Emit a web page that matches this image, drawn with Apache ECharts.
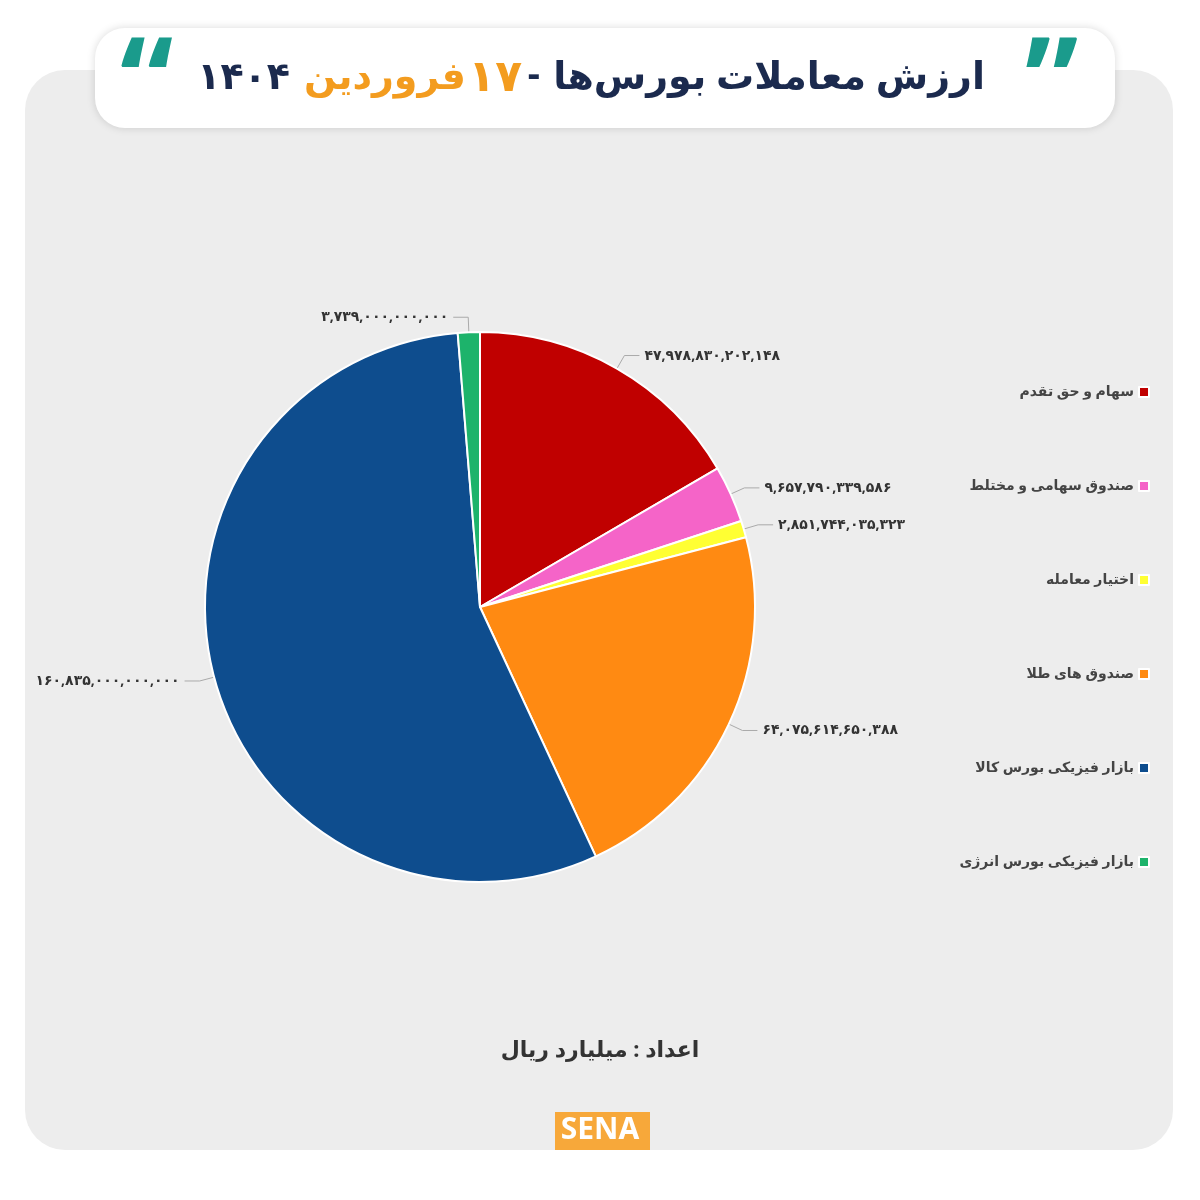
<!DOCTYPE html>
<html><head><meta charset="utf-8">
<script src="https://cdn.jsdelivr.net/npm/echarts@6/dist/echarts.min.js"></script>
<style>html,body{margin:0;padding:0;background:#fff}#c{width:1200px;height:1200px}</style>
</head><body><div id="c"></div>
<script>
const categories = ['سهام و حق تقدم','صندوق سهامی و مختلط','اختیار معامله','صندوق های طلا','بازار فیزیکی بورس کالا','بازار فیزیکی بورس انرژی'];
const values = [47978830202148, 9657790339586, 2851744035323, 64075614650388, 160835000000000, 3739000000000];
const colors = ['#c00000','#f564c8','#ffff33','#ff8a12','#0e4d8e','#1db36b'];
const titleMain = 'ارزش معاملات بورس‌ها';
const titleDay = '۱۷';
const titleMonth = 'فروردین';
const titleYear = '۱۴۰۴';
const unitText = 'اعداد : میلیارد ریال';

function fa(n){
  const s = n.toLocaleString('en-US');
  return s.replace(/\d/g, d => '۰۱۲۳۴۵۶۷۸۹'[d]);
}
const chart = echarts.init(document.getElementById('c'));
const F = 'Noto Sans, DejaVu Sans, sans-serif';
const tf = 'bold 38px '+F;
chart.setOption({
  backgroundColor: '#ffffff',
  color: colors,
  graphic: [
    {type:'rect', shape:{x:25,y:70,width:1148,height:1080,r:40}, style:{fill:'#ededed'}, z:-10},
    {type:'rect', shape:{x:95,y:28,width:1020,height:100,r:30}, style:{fill:'#ffffff', shadowBlur:8, shadowColor:'rgba(0,0,0,0.15)'}, z:-5},
    {type:'text', x:1025, y:30, style:{text:'\u201D', fill:'#1a9b8c', font:'bold 120px '+F}},
    {type:'text', x:120, y:30, style:{text:'\u201C', fill:'#1a9b8c', font:'bold 120px '+F}},
    {type:'text', x:985, y:78, style:{text:titleMain, fill:'#1b2a4e', font:tf, align:'right', verticalAlign:'middle'}},
    {type:'text', x:540, y:76, style:{text:'-', fill:'#1b2a4e', font:tf, align:'right', verticalAlign:'middle'}},
    {type:'text', x:522, y:78, style:{text:titleDay, fill:'#f39c1f', font:'bold 44px '+F, align:'right', verticalAlign:'middle'}},
    {type:'text', x:466, y:78, style:{text:titleMonth, fill:'#f39c1f', font:tf, align:'right', verticalAlign:'middle'}},
    {type:'text', x:290, y:78, style:{text:titleYear, fill:'#1b2a4e', font:tf, align:'right', verticalAlign:'middle'}},
    {type:'text', left:'center', top:1040, style:{text:unitText, fill:'#333', font:'bold 22px '+F}},
    {type:'rect', shape:{x:555,y:1112,width:95,height:38}, style:{fill:'#f7a83a'}},
    {type:'text', left:'center', top:1115, style:{text:'SENA', fill:'#ffffff', font:'bold 30px '+F}}
  ],
  legend: {
    orient:'vertical', right:45, top:380, itemGap:80, align:'right',
    icon:'rect', itemWidth:10, itemHeight:10,
    textStyle:{fontFamily:F, fontSize:14, fontWeight:'bold', color:'#444'},
    data: categories
  },
  series: [{
    type:'pie', center:[480,607], radius:[0,275], startAngle:90, clockwise:true,
    itemStyle:{borderColor:'#ffffff', borderWidth:2},
    label:{formatter:p=>fa(p.value), fontFamily:F, fontSize:14, fontWeight:'bold', color:'#333', overflow:'none'},
    labelLine:{length:15, length2:15, lineStyle:{color:'#aaa'}},
    data: categories.map((c,i)=>({name:c, value:values[i]}))
  }]
});
</script></body></html>
